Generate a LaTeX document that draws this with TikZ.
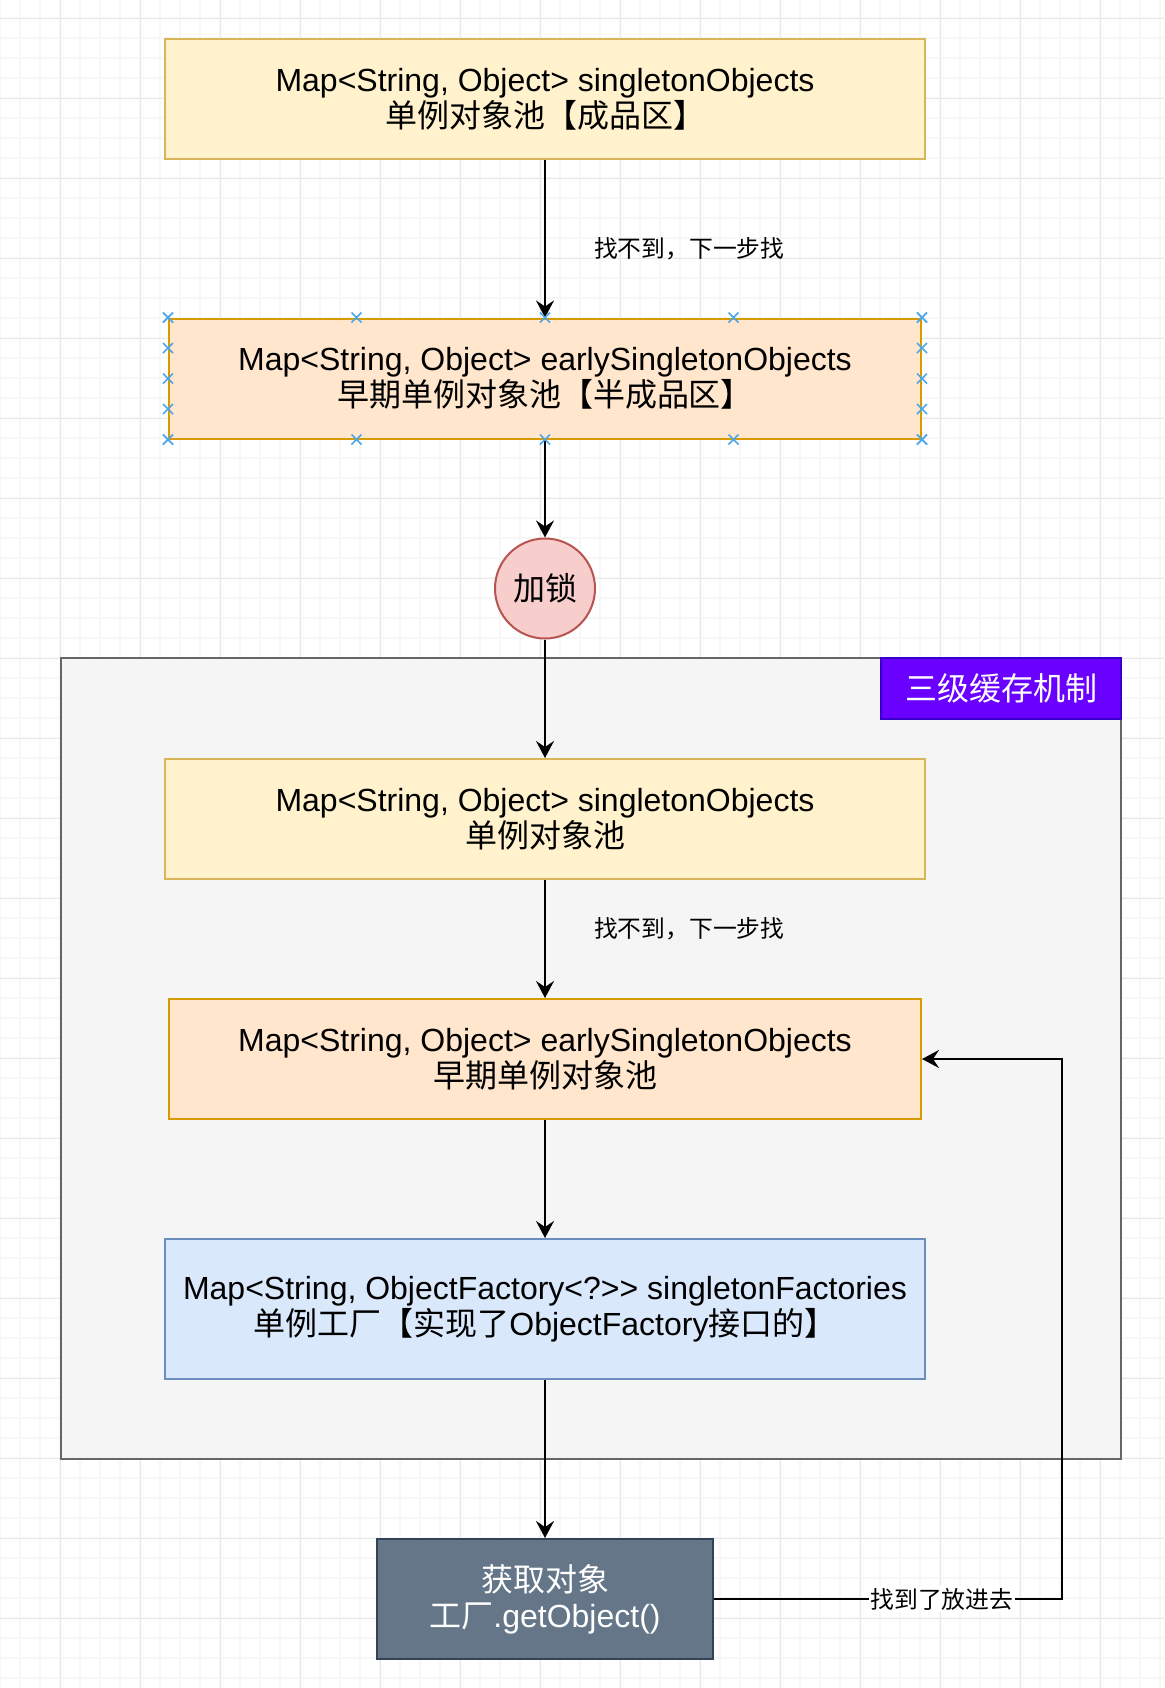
\documentclass[tikz,border=0pt]{standalone}
\usepackage{fontspec}
\setmainfont{Liberation Sans}
\newfontfamily\cjk{Noto Sans CJK SC}
\usetikzlibrary{arrows.meta,calc}

\definecolor{yellowfill}{HTML}{FFF2CC}
\definecolor{yellowline}{HTML}{D6B656}
\definecolor{orangefill}{HTML}{FFE6CC}
\definecolor{orangeline}{HTML}{D79B00}
\definecolor{bluefill}{HTML}{DAE8FC}
\definecolor{blueline}{HTML}{6C8EBF}
\definecolor{redfill}{HTML}{F8CECC}
\definecolor{redline}{HTML}{B85450}
\definecolor{cachefill}{HTML}{F5F5F5}
\definecolor{cacheline}{HTML}{666666}
\definecolor{tagfill}{HTML}{6A00FF}
\definecolor{tagline}{HTML}{3700CC}
\definecolor{fetchfill}{HTML}{647687}
\definecolor{fetchline}{HTML}{314354}
\definecolor{handleblue}{HTML}{4DA6EA}

\begin{document}
\begin{tikzpicture}[x=0.5pt,y=-0.5pt,
    every node/.style={font=\fontsize{16}{18}\selectfont, align=center},
    pool/.style={draw, line width=1pt, inner sep=0pt, minimum width=380pt, minimum height=60pt},
    donepool/.style={pool, fill=yellowfill, draw=yellowline},
    halfpool/.style={pool, fill=orangefill, draw=orangeline, minimum width=376pt},
    factorypool/.style={pool, fill=bluefill, draw=blueline, minimum height=70pt},
    flow/.style={line width=1pt, -{Stealth[length=8.5pt,width=9pt,inset=3pt]}},
    hint/.style={font=\fontsize{11.9}{14}\selectfont\cjk, inner sep=0pt},
    handle/.style={draw=handleblue, line width=0.8pt},
    minorgrid/.style={draw=gray!6, line width=1pt},
    majorgrid/.style={draw=gray!18, line width=0.5pt}]
    \path[use as bounding box, fill=white] (0,0) rectangle (1164,1688);

    % grid
    \foreach \gx in {0,20,...,1160} \draw[minorgrid] (\gx,0) -- (\gx,1688);
    \foreach \gy in {18,38,...,1678} \draw[minorgrid] (0,\gy) -- (1164,\gy);
    \foreach \gx in {60,140,...,1100} \draw[majorgrid] (\gx,0) -- (\gx,1688);
    \foreach \gy in {18,98,...,1618} \draw[majorgrid] (0,\gy) -- (1164,\gy);

    % cache block
    \node[draw=cacheline, fill=cachefill, line width=1pt, minimum width=530pt, minimum height=400.5pt] (cache) at (591,1058.5) {};
    \node[draw=tagline, fill=tagfill, line width=1pt, text=white, minimum width=120pt, minimum height=30.5pt, inner sep=0pt] (tag) at (1001,688.5) {\cjk 三级缓存机制};

    \node[donepool] (top1) at (545,99) {Map<String, Object> singletonObjects\\{\cjk 单例对象池【成品区】}};
    \node[halfpool] (top2) at (545,378.5) {Map<String, Object> earlySingletonObjects\\{\cjk 早期单例对象池【半成品区】}};
    \node[circle, draw=redline, fill=redfill, line width=1pt, minimum size=50pt, inner sep=0pt] (lock) at (545,588.5) {\cjk 加锁};
    \node[donepool] (first) at (545,819) {Map<String, Object> singletonObjects\\{\cjk 单例对象池}};
    \node[halfpool] (second) at (545,1059) {Map<String, Object> earlySingletonObjects\\{\cjk 早期单例对象池}};
    \node[factorypool] (third) at (545,1309) {Map<String, ObjectFactory<?>{}> singletonFactories\\{\cjk 单例工厂【实现了}ObjectFactory{\cjk 接口的】}};
    \node[draw=fetchline, fill=fetchfill, line width=1pt, text=white, minimum width=168pt, minimum height=60pt, inner sep=0pt] (fetch) at (545,1599) {{\cjk 获取对象}\\{\cjk 工厂}.getObject()};

    \draw[flow] (top1) -- node[hint, pos=0.5625, anchor=west, xshift=24pt] {找不到，下一步找} (top2);
    \draw[flow] (top2) -- (lock);
    \draw[flow] (lock) -- (first);
    \draw[flow] (first) -- node[hint, pos=0.41, anchor=west, xshift=24pt] {找不到，下一步找} (second);
    \draw[flow] (second) -- (third);
    \draw[flow] (third) -- (fetch);
    \draw[flow] (fetch.east) -- node[hint, pos=0.655, fill=white, inner sep=1pt] {找到了放进去} ++(348,0) |- (second.east);

    % selection handles
    \foreach \f in {0,0.25,0.5,0.75,1} {
        \draw[handle] ($(top2.north west)!\f!(top2.north east)$) ++(-5,-5) -- ++(10,10) ++(-10,0) -- ++(10,-10);
        \draw[handle] ($(top2.south west)!\f!(top2.south east)$) ++(-5,-5) -- ++(10,10) ++(-10,0) -- ++(10,-10);
        \draw[handle] ($(top2.north west)!\f!(top2.south west)$) ++(-5,-5) -- ++(10,10) ++(-10,0) -- ++(10,-10);
        \draw[handle] ($(top2.north east)!\f!(top2.south east)$) ++(-5,-5) -- ++(10,10) ++(-10,0) -- ++(10,-10);
    }
\end{tikzpicture}
\end{document}
